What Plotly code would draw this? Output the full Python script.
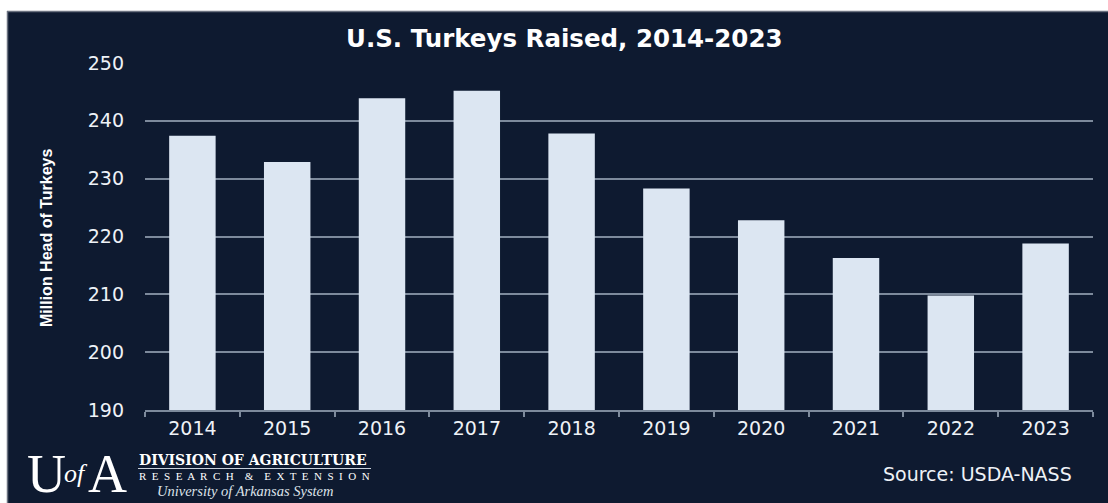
import plotly.graph_objects as go

years = ["2014", "2015", "2016", "2017", "2018", "2019", "2020", "2021", "2022", "2023"]
turkeys = [237.4, 232.9, 243.9, 245.2, 237.8, 228.3, 222.8, 216.3, 209.8, 218.8]
y_ticks = [190, 200, 210, 220, 230, 240, 250]

W, H = 1108, 503
ML, MR, MT, MB = 145, 15, 63, 93
PW, PH = W - ML - MR, H - MT - MB


def px_x(x):
    return (x - ML) / PW


def px_y(y):
    return (H - MB - y) / PH


BG = "#0e1a30"
BAR = "#dce6f2"
GRID = "#7d8a9c"
TXT = "#eef2f7"

fig = go.Figure(
    go.Bar(x=years, y=turkeys, marker=dict(color=BAR, line=dict(width=0)), showlegend=False)
)

fig.update_layout(
    width=W, height=H,
    margin=dict(l=ML, r=MR, t=MT, b=MB, pad=0),
    paper_bgcolor=BG, plot_bgcolor=BG,
    bargap=0.51,
    font=dict(family="DejaVu Sans, Arial, sans-serif", color=TXT),
)

fig.update_xaxes(
    type="category", tickson="boundaries", ticks="outside", ticklen=5, tickwidth=1.5,
    tickcolor=GRID, showline=True, linecolor=GRID, linewidth=1.5, showgrid=False,
    tickfont=dict(family="DejaVu Sans", size=19, color=TXT),
)
fig.update_yaxes(
    range=[190, 250], tickvals=y_ticks, ticks="", showline=False, zeroline=False,
    showgrid=True, gridcolor=GRID, gridwidth=1.5, ticklabelstandoff=20,
    tickfont=dict(family="DejaVu Sans", size=19, color=TXT),
)

shapes = [
    dict(type="rect", xref="paper", yref="paper", x0=px_x(-5), x1=px_x(7), y0=px_y(510), y1=px_y(-5),
         fillcolor="white", line=dict(width=0), layer="above"),
    dict(type="rect", xref="paper", yref="paper", x0=px_x(-5), x1=px_x(W + 5), y0=px_y(11), y1=px_y(-5),
         fillcolor="white", line=dict(width=0), layer="above"),
    dict(type="line", xref="paper", yref="paper", x0=px_x(7.5), x1=px_x(7.5), y0=px_y(510), y1=px_y(11),
         line=dict(color="#6b7280", width=1.5), layer="above"),
    dict(type="line", xref="paper", yref="paper", x0=px_x(7), x1=px_x(W + 5), y0=px_y(11.5), y1=px_y(11.5),
         line=dict(color="#6b7280", width=1.5), layer="above"),
    dict(type="line", xref="paper", yref="paper", x0=px_x(138), x1=px_x(371), y0=px_y(468.5), y1=px_y(468.5),
         line=dict(color="#c9d1dc", width=1.2), layer="above"),
]
fig.update_layout(shapes=shapes)

ann = [
    dict(text="<b>U.S. Turkeys Raised, 2014-2023</b>", x=px_x(564), y=px_y(38),
         font=dict(family="DejaVu Sans", size=24.5, color="white")),
    dict(text="<b>Million Head of Turkeys</b>", x=px_x(46), y=px_y(238), textangle=-90,
         font=dict(family="Liberation Sans, Arial", size=16, color="white")),
    dict(text="Source: USDA-NASS", x=px_x(1074), y=px_y(474), xanchor="right",
         font=dict(family="DejaVu Sans", size=19, color=TXT)),
    dict(text="U", x=px_x(46), y=px_y(474),
         font=dict(family="Liberation Serif, Times New Roman, serif", size=54, color="white")),
    dict(text="<i>of</i>", x=px_x(76), y=px_y(474),
         font=dict(family="Liberation Serif, serif", size=26, color="white")),
    dict(text="A", x=px_x(107), y=px_y(474),
         font=dict(family="Liberation Serif, Times New Roman, serif", size=54, color="white")),
    dict(text="<b>DIVISION OF AGRICULTURE</b>", x=px_x(137), y=px_y(460), xanchor="left",
         font=dict(family="DejaVu Serif, serif", size=14, color="white")),
    dict(text="R  E  S  E  A  R  C  H    &amp;    E  X  T  E  N  S  I  O  N", x=px_x(137), y=px_y(476),
         xanchor="left", font=dict(family="Liberation Serif, serif", size=11, color="white")),
    dict(text="<i>University of Arkansas System</i>", x=px_x(155), y=px_y(491), xanchor="left",
         font=dict(family="Liberation Serif, serif", size=14.5, color="#dde3ea")),
]
for a in ann:
    a.setdefault("xanchor", "center")
    a.update(xref="paper", yref="paper", yanchor="middle", showarrow=False)
fig.update_layout(annotations=ann)

fig.write_html("out.html")
